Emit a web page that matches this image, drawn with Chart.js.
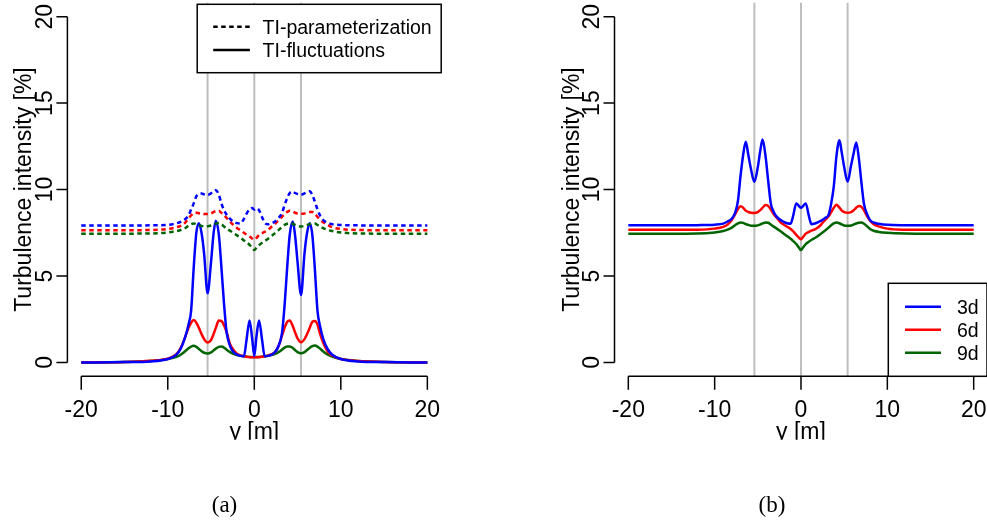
<!DOCTYPE html>
<html>
<head>
<meta charset="utf-8">
<script src="https://cdn.jsdelivr.net/npm/chart.js@4.4.0/dist/chart.umd.min.js"></script>
<style>
  body { margin: 0; width: 987px; height: 522px; overflow: hidden; background: #fff; position: relative; }
  canvas { position: absolute; top: 0; }
  #panelA { left: 0; }
  #panelB { left: 500px; }
</style>
</head>
<body>
<canvas id="panelA" width="470" height="522"></canvas>
<canvas id="panelB" width="490" height="522"></canvas>
<script>
// lateral position across the wake [m]
const yPos = [-20, -15, -12, -10, -9, -8.5, -8, -7.6, -7.3, -7,
  -6.7, -6.4, -6.1, -5.8, -5.4, -5, -4.7, -4.45, -4.1, -3.8,
  -3.5, -3.2, -2.8, -2.4, -2, -1.6, -1.2, -0.9, -0.55, -0.25,
  0,
  0.25, 0.55, 0.9, 1.2, 1.6, 2, 2.4, 2.8, 3.2, 3.5,
  3.8, 4.1, 4.45, 4.7, 5, 5.4, 5.8, 6.1, 6.4, 6.7,
  7, 7.3, 7.6, 8, 8.5, 9, 10, 12, 15, 20];

// TI from the parameterization (dotted, panel a)
const param3d = [7.92, 7.92, 7.93, 7.96, 8.05, 8.13, 8.28, 8.5, 8.85, 9.2,
  9.6, 9.75, 9.77, 9.72, 9.68, 9.78, 9.92, 9.96, 9.7, 9.2,
  8.8, 8.55, 8.3, 8.13, 8.06, 8.03, 8.3, 8.6, 8.85, 8.93,
  8.85,
  8.92, 8.8, 8.4, 8.08, 7.99, 8.05, 8.15, 8.35, 8.65, 9.1,
  9.5, 9.8, 9.88, 9.8, 9.74, 9.7, 9.78, 9.85, 9.9, 9.7,
  9.3, 8.85, 8.5, 8.22, 8.08, 8.0, 7.95, 7.93, 7.92, 7.92];
const param6d = [7.65, 7.65, 7.66, 7.72, 7.82, 7.9, 8.08, 8.32, 8.5, 8.63,
  8.66, 8.63, 8.6, 8.58, 8.58, 8.62, 8.7, 8.75, 8.77, 8.65,
  8.52, 8.36, 8.13, 7.95, 7.78, 7.64, 7.5, 7.4, 7.28, 7.17,
  7.1,
  7.2, 7.37, 7.47, 7.55, 7.68, 7.85, 8.02, 8.22, 8.42, 8.57,
  8.7, 8.77, 8.72, 8.66, 8.62, 8.6, 8.62, 8.66, 8.7, 8.7,
  8.6, 8.42, 8.25, 8.1, 7.95, 7.82, 7.72, 7.66, 7.65, 7.65];
const param9d = [7.45, 7.45, 7.46, 7.52, 7.6, 7.66, 7.76, 7.92, 8.0, 8.04,
  8.0, 7.95, 7.9, 7.88, 7.88, 7.92, 7.98, 8.03, 8.06, 8.0,
  7.86, 7.74, 7.62, 7.48, 7.35, 7.22, 7.06, 6.95, 6.8, 6.62,
  6.5,
  6.62, 6.78, 6.92, 7.02, 7.16, 7.32, 7.48, 7.65, 7.85, 7.96,
  8.02, 8.05, 8.02, 7.96, 7.9, 7.87, 7.9, 7.95, 8.0, 8.03,
  8.03, 7.95, 7.85, 7.76, 7.66, 7.6, 7.52, 7.46, 7.45, 7.45];

// TI from the velocity fluctuations (solid, panel a)
const fluct3d = [0, 0.02, 0.06, 0.2, 0.45, 0.8, 1.45, 2.2, 3.0, 5.5,
  7.5, 8.05, 7.5, 6.3, 4.0, 5.8, 7.5, 8.2, 7.4, 5.5,
  3.4, 1.75, 0.95, 0.6, 0.45, 0.38, 0.36, 1.3, 2.43, 1.4,
  0.38,
  1.5, 2.43, 1.3, 0.36, 0.38, 0.45, 0.6, 0.95, 1.7, 3.3,
  5.5, 7.4, 8.15, 7.4, 5.8, 3.9, 6.3, 7.5, 8.05, 7.4,
  5.4, 3.0, 2.1, 1.3, 0.75, 0.45, 0.2, 0.06, 0.02, 0];
const fluct6d = [0, 0.03, 0.1, 0.22, 0.48, 0.85, 1.45, 2.0, 2.3, 2.45,
  2.3, 2.0, 1.65, 1.35, 1.15, 1.3, 1.65, 2.0, 2.42, 2.4,
  2.15, 1.75, 1.05, 0.72, 0.5, 0.41, 0.36, 0.33, 0.31, 0.3,
  0.3,
  0.3, 0.31, 0.33, 0.36, 0.41, 0.48, 0.6, 0.95, 1.55, 2.0,
  2.35, 2.43, 2.1, 1.75, 1.4, 1.17, 1.35, 1.65, 2.0, 2.35,
  2.4, 2.2, 1.65, 1.1, 0.62, 0.4, 0.2, 0.08, 0.03, 0];
const fluct9d = [0, 0.02, 0.08, 0.2, 0.32, 0.45, 0.65, 0.82, 0.92, 0.96,
  0.9, 0.78, 0.65, 0.56, 0.52, 0.58, 0.7, 0.8, 0.9, 0.92,
  0.86, 0.74, 0.6, 0.5, 0.43, 0.39, 0.36, 0.34, 0.32, 0.31,
  0.31,
  0.31, 0.32, 0.34, 0.36, 0.39, 0.43, 0.5, 0.6, 0.74, 0.86,
  0.92, 0.93, 0.84, 0.72, 0.6, 0.54, 0.6, 0.72, 0.84, 0.94,
  0.98, 0.92, 0.8, 0.62, 0.45, 0.34, 0.2, 0.08, 0.02, 0];

// combined TI (panel b)
const total3d = [7.93, 7.93, 7.94, 7.97, 8.03, 8.15, 8.33, 8.7, 9.35, 10.8,
  12.0, 12.76, 12.0, 11.2, 10.45, 11.3, 12.3, 12.9, 11.9, 10.5,
  9.2, 8.75, 8.42, 8.25, 8.13, 8.05, 8.02, 8.5, 9.2, 9.05,
  8.95,
  9.05, 9.2, 8.5, 8.0, 8.04, 8.12, 8.22, 8.35, 8.55, 9.2,
  10.2, 11.9, 12.85, 12.2, 11.3, 10.45, 11.4, 12.1, 12.72, 11.8,
  10.4, 9.15, 8.65, 8.22, 8.08, 8.02, 7.96, 7.94, 7.93, 7.93];
const total6d = [7.67, 7.67, 7.68, 7.74, 7.84, 7.97, 8.25, 8.6, 8.88, 9.03,
  8.95, 8.78, 8.7, 8.66, 8.65, 8.7, 8.82, 8.95, 9.1, 9.05,
  8.85, 8.6, 8.36, 8.12, 7.98, 7.85, 7.72, 7.58, 7.38, 7.22,
  7.12,
  7.27, 7.45, 7.55, 7.62, 7.7, 7.82, 8.02, 8.25, 8.45, 8.7,
  8.95, 9.12, 8.95, 8.8, 8.7, 8.66, 8.7, 8.8, 8.95, 9.05,
  9.0, 8.8, 8.5, 8.2, 7.97, 7.87, 7.74, 7.68, 7.67, 7.67];
const total9d = [7.45, 7.45, 7.46, 7.52, 7.6, 7.68, 7.8, 7.95, 8.05, 8.1,
  8.07, 8.0, 7.95, 7.91, 7.9, 7.93, 7.99, 8.04, 8.1, 8.08,
  7.98, 7.87, 7.74, 7.6, 7.45, 7.3, 7.15, 7.02, 6.85, 6.65,
  6.5,
  6.66, 6.85, 6.98, 7.08, 7.2, 7.33, 7.48, 7.63, 7.8, 7.94,
  8.04, 8.1, 8.05, 7.98, 7.92, 7.9, 7.92, 7.98, 8.04, 8.08,
  8.09, 8.02, 7.9, 7.72, 7.6, 7.55, 7.5, 7.46, 7.45, 7.45];

const xTicks = [-20, -10, 0, 10, 20];
const yTicks = [0, 5, 10, 15, 20];
const rotorPos = [-5.4, 0, 5.4];
const distances = ['3d', '6d', '9d'];
const methodNames = ['TI-parameterization', 'TI-fluctuations'];

const BLUE = '#0000ff', RED = '#ff0000', GREEN = '#006400';
const COLORS = [BLUE, RED, GREEN];
const DOTS = [4.5, 3.5];
const FONT = '"Liberation Sans", Arial, sans-serif';

function pts(vals) {
  return yPos.map((x, i) => ({ x: x, y: vals[i] }));
}

function curve(label, vals, color, dash) {
  return {
    label: label,
    data: pts(vals),
    borderColor: color,
    borderWidth: 2.5,
    borderDash: dash || [],
    pointRadius: 0,
    cubicInterpolationMode: 'monotone',
    fill: false
  };
}

// R-style detached axes, reference lines and titles
const rAxes = {
  id: 'rAxes',
  beforeDatasetsDraw(chart) {
    const { ctx, chartArea: a, scales: { x, y } } = chart;
    ctx.save();

    ctx.strokeStyle = '#bebebe';
    ctx.lineWidth = 2;
    rotorPos.forEach(v => {
      const px = x.getPixelForValue(v);
      ctx.beginPath();
      ctx.moveTo(px, a.top);
      ctx.lineTo(px, a.bottom);
      ctx.stroke();
    });

    ctx.strokeStyle = '#000';
    ctx.fillStyle = '#000';
    ctx.lineWidth = 1.5;
    ctx.font = '23px ' + FONT;

    // x axis
    ctx.beginPath();
    ctx.moveTo(x.getPixelForValue(xTicks[0]), a.bottom);
    ctx.lineTo(x.getPixelForValue(xTicks[xTicks.length - 1]), a.bottom);
    xTicks.forEach(v => {
      const px = x.getPixelForValue(v);
      ctx.moveTo(px, a.bottom);
      ctx.lineTo(px, a.bottom + 13.5);
    });
    ctx.stroke();
    ctx.textAlign = 'center';
    ctx.textBaseline = 'alphabetic';
    xTicks.forEach(v => ctx.fillText(String(v), x.getPixelForValue(v), a.bottom + 40.4));

    // y axis
    ctx.beginPath();
    ctx.moveTo(a.left, y.getPixelForValue(yTicks[0]));
    ctx.lineTo(a.left, y.getPixelForValue(yTicks[yTicks.length - 1]));
    yTicks.forEach(v => {
      const py = y.getPixelForValue(v);
      ctx.moveTo(a.left, py);
      ctx.lineTo(a.left - 11, py);
    });
    ctx.stroke();
    yTicks.forEach(v => {
      ctx.save();
      ctx.translate(a.left - 15.7, y.getPixelForValue(v));
      ctx.rotate(-Math.PI / 2);
      ctx.fillText(String(v), 0, 0);
      ctx.restore();
    });

    // axis titles (the x title is cut at the figure edge)
    ctx.save();
    ctx.beginPath();
    ctx.rect(0, 0, chart.width, a.bottom + 63.5);
    ctx.clip();
    ctx.fillText('y [m]', x.getPixelForValue(0), a.bottom + 62.7);
    ctx.restore();

    ctx.save();
    ctx.translate(a.left - 36, (a.top + a.bottom) / 2);
    ctx.rotate(-Math.PI / 2);
    ctx.fillText('Turbulence intensity [%]', 0, 0);
    ctx.restore();

    ctx.restore();
  }
};

function drawLegendBox(ctx, left, top, right, bottom) {
  ctx.fillStyle = '#fff';
  ctx.fillRect(left, top, right - left, bottom - top);
  ctx.strokeStyle = '#000';
  ctx.lineWidth = 1.5;
  ctx.strokeRect(left, top, right - left, bottom - top);
}

function caption(text, cx) {
  return {
    id: 'caption',
    afterDraw(chart) {
      const ctx = chart.ctx;
      ctx.save();
      ctx.fillStyle = '#000';
      ctx.font = '23px "Liberation Serif", "Times New Roman", serif';
      ctx.textAlign = 'center';
      ctx.fillText(text, cx, 512);
      ctx.restore();
    }
  };
}

// legend of line styles, top right of panel a
const legendA = {
  id: 'legendA',
  afterDatasetsDraw(chart) {
    const { ctx, chartArea: a } = chart;
    const left = a.right - 244, top = a.top + 1.5;
    ctx.save();
    drawLegendBox(ctx, left, top, a.right, top + 68.4);
    ctx.lineWidth = 2.5;
    ctx.strokeStyle = '#000';
    ctx.fillStyle = '#000';
    ctx.font = '19.5px ' + FONT;
    ctx.textAlign = 'left';
    methodNames.forEach((name, i) => {
      const ly = top + 22.4 + i * 23.3;
      ctx.setLineDash(i === 0 ? DOTS : []);
      ctx.beginPath();
      ctx.moveTo(left + 16, ly);
      ctx.lineTo(left + 52.7, ly);
      ctx.stroke();
      ctx.fillText(name, left + 65.4, ly + 6.8);
    });
    ctx.restore();
  }
};

// legend of downstream distances, bottom right of panel b
const legendB = {
  id: 'legendB',
  afterDatasetsDraw(chart) {
    const { ctx, chartArea: a } = chart;
    const left = a.right - 99.2, top = a.bottom - 93;
    ctx.save();
    drawLegendBox(ctx, left, top, a.right - 0.5, a.bottom);
    ctx.lineWidth = 2.5;
    ctx.font = '19.5px ' + FONT;
    ctx.textAlign = 'left';
    distances.forEach((d, i) => {
      const ly = top + 23.4 + i * 23;
      ctx.strokeStyle = COLORS[i];
      ctx.beginPath();
      ctx.moveTo(left + 16.7, ly);
      ctx.lineTo(left + 52.7, ly);
      ctx.stroke();
      ctx.fillStyle = '#000';
      ctx.fillText(d, left + 68.7, ly + 6.8);
    });
    ctx.restore();
  }
};

function baseOptions(padLeft, padRight) {
  return {
    responsive: false,
    animation: false,
    devicePixelRatio: 1,
    layout: { padding: { left: padLeft, right: padRight, top: 2.8, bottom: 522 - 376.3 } },
    plugins: { legend: { display: false }, tooltip: { enabled: false } },
    scales: {
      x: { type: 'linear', min: -21.6, max: 21.6, display: false },
      y: { type: 'linear', min: -0.8, max: 20.8, display: false }
    }
  };
}

new Chart(document.getElementById('panelA'), {
  type: 'line',
  data: {
    datasets: [
      curve('3d parameterization', param3d, BLUE, DOTS),
      curve('6d parameterization', param6d, RED, DOTS),
      curve('9d parameterization', param9d, GREEN, DOTS),
      curve('3d fluctuations', fluct3d, BLUE),
      curve('6d fluctuations', fluct6d, RED),
      curve('9d fluctuations', fluct9d, GREEN)
    ]
  },
  options: baseOptions(67.4, 470 - 441.2),
  plugins: [rAxes, legendA, caption('(a)', 224.5)]
});

new Chart(document.getElementById('panelB'), {
  type: 'line',
  data: {
    datasets: [
      curve('3d', total3d, BLUE),
      curve('6d', total6d, RED),
      curve('9d', total9d, GREEN)
    ]
  },
  options: baseOptions(114.5, 490 - 487.5),
  plugins: [rAxes, legendB, caption('(b)', 272)]
});
</script>
</body>
</html>
